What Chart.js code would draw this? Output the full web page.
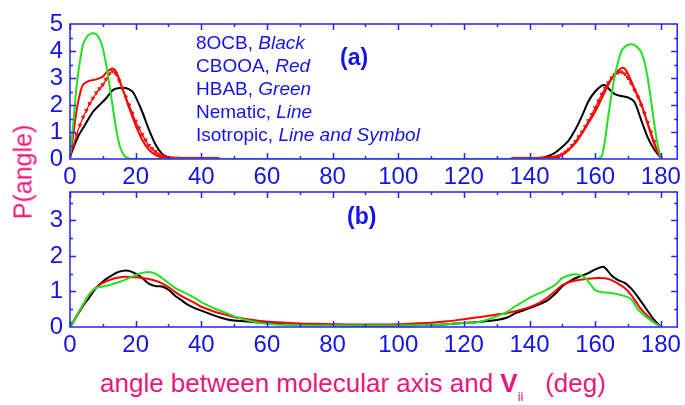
<!DOCTYPE html>
<html><head><meta charset="utf-8">
<script src="https://cdn.jsdelivr.net/npm/chart.js@4/dist/chart.umd.min.js"></script>
<style>
html,body{margin:0;padding:0;background:#fff}
body{width:685px;height:405px;position:relative;overflow:hidden;font-family:"Liberation Sans",Arial,sans-serif}
canvas{position:absolute;left:0}
#c1{top:0}
#c2{top:168px}
.t{position:absolute;white-space:nowrap;color:#1414e6;font-size:19px;line-height:20px}
.lab{position:absolute;white-space:nowrap;color:#1414e6;font-weight:bold;font-size:23px;line-height:22px}
#ytitle{position:absolute;left:23px;top:172px;transform:translate(-50%,-50%) rotate(-90deg);color:#e8177c;font-size:25px;white-space:nowrap}
#xtitle{position:absolute;left:100px;top:369px;color:#e8177c;font-size:26px;line-height:28px;white-space:nowrap}
#xtitle sub{font-size:13px;vertical-align:-9px}
</style></head>
<body>
<canvas id="c1" width="685" height="195"></canvas>
<canvas id="c2" width="685" height="195"></canvas>
<div class="t" style="left:196px;top:33px">8OCB, <i>Black</i></div>
<div class="t" style="left:196px;top:56px">CBOOA, <i>Red</i></div>
<div class="t" style="left:196px;top:79px">HBAB, <i>Green</i></div>
<div class="t" style="left:196px;top:102px">Nematic, <i>Line</i></div>
<div class="t" style="left:196px;top:125px">Isotropic, <i>Line and Symbol</i></div>
<div class="lab" style="left:340px;top:46px">(a)</div>
<div class="lab" style="left:347px;top:205px">(b)</div>
<div id="ytitle">P(angle)</div>
<div id="xtitle">angle between molecular axis and <b>V</b><sub>ii</sub>&nbsp;&nbsp;&nbsp;(deg)</div>
<script>
// ---------- Panel (a) data ----------
const aBlackX = [0,1,2,3,5,7,9,11,13,15,17,19,20,22,24,26,28,30,32,40,60,80,100,120,140,144,146,148,150,152,154,156,158,160,162,163,164,166,168,170,172,174,176,178,180];
const aBlackY = [0.1,0.4,0.7,0.95,1.35,1.75,2.0,2.25,2.55,2.63,2.63,2.5,2.3,1.75,1.1,0.55,0.2,0.05,0,0,0,0,0,0,0,0.05,0.12,0.25,0.45,0.7,1.1,1.6,2.15,2.5,2.72,2.73,2.62,2.4,2.33,2.28,2.1,1.45,0.8,0.35,0.05];
const aRedX = [0,1,2,3,4,6,8,10,11,12,13,14,15,16,17,18,20,22,24,26,28,30,40,60,80,100,120,140,148,150,152,154,156,158,160,162,164,166,168,169,170,172,174,176,178,180];
const aRedY = [0.1,0.9,1.8,2.4,2.75,2.9,2.95,3.05,3.2,3.3,3.35,3.25,2.95,2.6,2.25,1.9,1.25,0.7,0.35,0.15,0.05,0,0,0,0,0,0,0,0.05,0.15,0.35,0.6,0.95,1.35,1.75,2.25,2.75,3.15,3.37,3.35,3.15,2.6,2.05,1.3,0.55,0.05];
const aRedIsoX = [0,1,2,3,4,5,6,7,8,9,10,11,12,13,14,15,16,17,18,19,20,21,22,23,24,25,26,27,28,29,30,31,32,33,34,35,36,37,38,39,40,41,42,43,44,45,90,
  135,136,137,138,139,140,141,142,143,144,145,146,147,148,149,150,151,152,153,154,155,156,157,158,159,160,161,162,163,164,165,166,167,168,169,170,171,172,173,174,175,176,177,178,179,180];
const aRedIsoY = [0.1,0.5,0.9,1.25,1.55,1.8,2.05,2.25,2.45,2.6,2.75,2.95,3.15,3.25,3.15,2.9,2.6,2.3,2.0,1.7,1.4,1.15,0.9,0.7,0.5,0.38,0.27,0.18,0.12,0.08,0.05,0.04,0.03,0.03,0.02,0.02,0.02,0.02,0.02,0.02,0.02,0.02,0.02,0.02,0.02,0.02,null,
  0.02,0.02,0.02,0.02,0.02,0.02,0.02,0.02,0.03,0.03,0.04,0.05,0.06,0.08,0.12,0.18,0.26,0.36,0.5,0.65,0.82,1.0,1.2,1.42,1.65,1.9,2.15,2.4,2.62,2.82,3.0,3.12,3.2,3.22,3.15,3.0,2.8,2.55,2.3,2.0,1.7,1.35,1.0,0.65,0.3,0.05];
const aGreenX = [0,1,2,3,4,5,6,7,8,9,10,11,12,13,14,15,16,17,18,19,40,60,80,100,120,140,160,161,162,163,164,165,166,167,168,169,170,171,172,173,174,175,176,177,178,179,180];
const aGreenY = [0.1,1.3,2.7,3.6,4.25,4.5,4.62,4.66,4.62,4.45,4.1,3.5,2.75,1.95,1.15,0.55,0.22,0.07,0.02,0,0,0,0,0,0,0,0,0.02,0.1,0.7,1.6,2.4,3.1,3.6,4.0,4.15,4.23,4.25,4.22,4.12,3.97,3.6,3.0,2.2,1.3,0.55,0.05];

// ---------- Panel (b) data ----------
const bBlackX = [0,2,4,6,8,10,12,14,16,18,20,22,24,26,28,30,32,34,36,38,40,42,44,46,48,50,52,55,58,62,66,70,75,80,85,90,95,100,105,110,115,120,125,130,133,136,140,145,148,150,153,155,158,160,162,163,165,167,169,171,173,176,178,180];
const bBlackY = [0,0.3,0.6,0.85,1.1,1.28,1.41,1.52,1.58,1.58,1.5,1.38,1.22,1.15,1.14,1.05,0.88,0.75,0.62,0.53,0.46,0.39,0.32,0.26,0.21,0.18,0.17,0.15,0.12,0.1,0.08,0.07,0.06,0.05,0.04,0.03,0.03,0.04,0.05,0.06,0.08,0.11,0.15,0.2,0.26,0.4,0.53,0.72,0.95,1.15,1.33,1.41,1.52,1.62,1.69,1.67,1.45,1.32,1.24,1.08,0.85,0.45,0.2,0];
const bRedX = [0,2,4,6,8,10,12,14,16,18,20,22,24,26,28,30,32,34,36,38,40,42,44,46,48,50,54,58,62,66,70,75,80,85,90,95,100,105,110,115,120,125,130,133,136,140,143,145,148,150,152,155,158,161,163,165,167,169,171,174,177,180];
const bRedY = [0,0.3,0.62,0.92,1.12,1.24,1.32,1.38,1.41,1.41,1.4,1.38,1.35,1.3,1.23,1.12,0.99,0.87,0.77,0.68,0.57,0.5,0.43,0.38,0.33,0.28,0.22,0.17,0.14,0.12,0.1,0.09,0.08,0.07,0.07,0.07,0.08,0.1,0.12,0.16,0.22,0.28,0.35,0.39,0.45,0.56,0.68,0.8,1.02,1.18,1.26,1.32,1.36,1.38,1.37,1.32,1.22,1.1,0.9,0.5,0.22,0];
const bGreenX = [0,2,4,6,8,10,12,14,16,18,20,22,24,26,28,30,32,34,36,38,40,42,44,46,48,50,54,58,62,66,70,80,90,100,110,115,120,125,130,133,136,140,145,148,150,153,155,157,159,160,162,165,169,171,173,176,178,180];
const bGreenY = [0,0.32,0.64,0.94,1.1,1.14,1.18,1.24,1.3,1.38,1.46,1.52,1.55,1.5,1.38,1.24,1.1,1.0,0.92,0.82,0.7,0.61,0.52,0.45,0.38,0.3,0.19,0.11,0.08,0.06,0.05,0.04,0.04,0.04,0.06,0.08,0.11,0.15,0.3,0.42,0.6,0.82,1.04,1.2,1.38,1.48,1.47,1.38,1.15,1.04,0.98,0.96,0.87,0.78,0.5,0.25,0.12,0];

// ---------- ticks ----------
const xTickLabels = [0,20,40,60,80,100,120,140,160,180];
const aYTickLabels = [0,1,2,3,4,5];
const bYTickLabels = [0,1,2,3];

const AXIS = '#2424ff', TXT = '#1414e6';
const BLACK = '#000000', RED = '#ff0000', GREEN = '#22e022';
const FONT = {family:'"Liberation Sans", Arial, sans-serif', size:24};

function pts(xs, ys){ return xs.map((x,i)=>({x:x, y:ys[i]})); }

const framePlugin = {
  id:'frame',
  afterDatasetsDraw(chart){
    const {ctx, chartArea:a, scales} = chart;
    const x = scales.x, y = scales.y;
    ctx.save();
    ctx.strokeStyle = AXIS; ctx.lineWidth = 1.5;
    ctx.strokeRect(a.left, a.top, a.right-a.left, a.bottom-a.top);
    ctx.beginPath();
    for (let v=0; v<=180; v+=10){
      const px = Math.round(x.getPixelForValue(v))+0.5;
      const L = v%20===0 ? 6 : 3;
      ctx.moveTo(px,a.bottom); ctx.lineTo(px,a.bottom-L);
      ctx.moveTo(px,a.top); ctx.lineTo(px,a.top+L);
    }
    for (let v=0.5; v<y.max-0.01; v+=0.5){
      const py = Math.round(y.getPixelForValue(v))+0.5;
      const L = Math.abs(v-Math.round(v))<1e-6 ? 6 : 3;
      ctx.moveTo(a.left,py); ctx.lineTo(a.left+L,py);
      ctx.moveTo(a.right,py); ctx.lineTo(a.right-L,py);
    }
    ctx.stroke();
    ctx.restore();
  }
};

function makeChart(id, datasets, ymax, yLabels){
  return new Chart(document.getElementById(id), {
    type:'line',
    data:{datasets:datasets},
    options:{
      responsive:false, animation:false, devicePixelRatio:1,
      layout:{padding:{left:0,right:6,top:24,bottom:0}},
      plugins:{legend:{display:false}, tooltip:{enabled:false}},
      elements:{point:{radius:0}, line:{tension:0.3, borderWidth:2}},
      scales:{
        x:{type:'linear', min:0, max:185,
           grid:{display:false, drawTicks:false}, border:{display:false},
           afterBuildTicks(s){ s.ticks = xTickLabels.map(v=>({value:v})); },
           afterFit(s){ s.height = 36; },
           ticks:{color:TXT, font:FONT, padding:4, maxRotation:0, autoSkip:false}},
        y:{type:'linear', min:0, max:ymax,
           grid:{display:false, drawTicks:false}, border:{display:false},
           afterBuildTicks(s){ s.ticks = yLabels.map(v=>({value:v})); },
           afterFit(s){ s.width = 70; },
           ticks:{color:TXT, font:FONT, padding:7, autoSkip:false}}
      }
    },
    plugins:[framePlugin]
  });
}

makeChart('c1', [
  {data:pts(aGreenX,aGreenY), borderColor:GREEN},
  {data:pts(aRedX,aRedY), borderColor:RED},
  {data:pts(aRedIsoX,aRedIsoY), borderColor:RED, borderWidth:1.2, spanGaps:false,
   pointRadius:2, pointStyle:'triangle', rotation:180, pointBorderColor:RED, pointBackgroundColor:'rgba(255,0,0,0.25)', pointBorderWidth:1},
  {data:pts(aBlackX,aBlackY), borderColor:BLACK}
], 5, aYTickLabels);

makeChart('c2', [
  {data:pts(bGreenX,bGreenY), borderColor:GREEN},
  {data:pts(bRedX,bRedY), borderColor:RED},
  {data:pts(bBlackX,bBlackY), borderColor:BLACK}
], 3.8, bYTickLabels);
</script>
</body></html>
